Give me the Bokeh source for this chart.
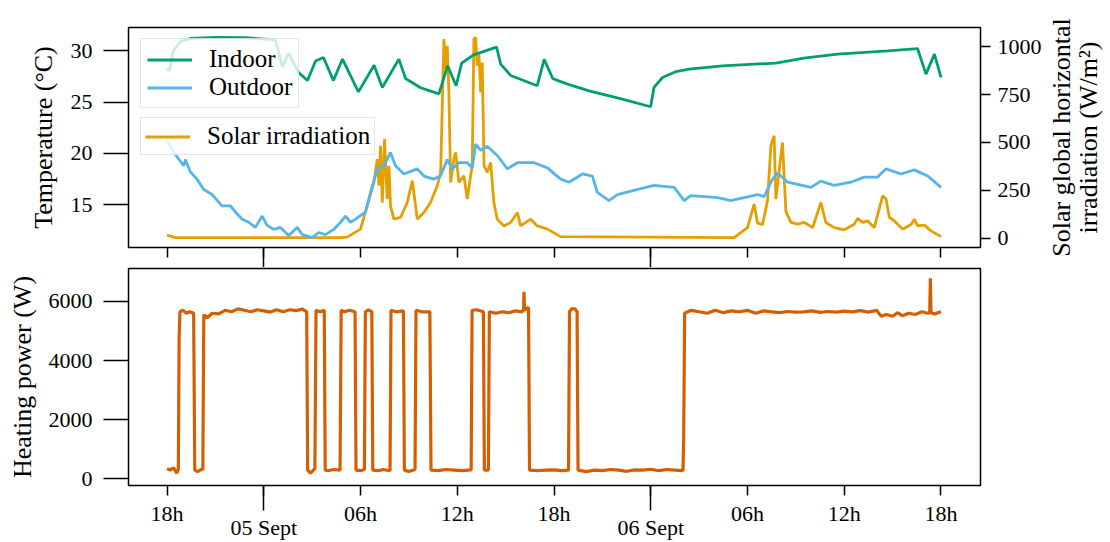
import math
from bokeh.plotting import figure
from bokeh.models import Range1d, LinearAxis, FixedTicker, Legend, LegendItem
from bokeh.layouts import column, row
from bokeh.embed import file_html
from bokeh.resources import INLINE

FONT = "Liberation Serif"

# ---------------- data (time = hours since 04 Sept 18:00) ----------------
tick_hours = [0, 6, 12, 18, 24, 30, 36, 42, 48]
hour_labels = ["18h", "", "06h", "12h", "18h", "", "06h", "12h", "18h"]
day_hours = [6, 30]
day_labels = ["05 Sept", "06 Sept"]

temp_ticks = [15, 20, 25, 30]
solar_ticks = [0, 250, 500, 750, 1000]
power_ticks = [0, 2000, 4000, 6000]

indoor = [(0.00, 28.3), (0.15, 28.05), (0.39, 30.0), (0.83, 30.9), (1.45, 31.2), (3.0, 31.3),
          (4.86, 31.27), (6.72, 31.07), (7.16, 28.4), (7.53, 29.8), (8.15, 27.9), (8.71, 27.1),
          (9.21, 29.0), (9.70, 29.35), (10.32, 27.1), (10.88, 29.2), (11.87, 26.0), (12.84, 28.6),
          (13.35, 26.43), (14.38, 29.19), (14.79, 27.3), (15.72, 26.4), (16.86, 25.8), (17.40, 28.54),
          (17.93, 26.6), (18.27, 28.8), (19.01, 29.6), (20.44, 30.36), (20.69, 28.7), (21.31, 27.6),
          (22.96, 26.6), (23.39, 29.17), (23.92, 27.3), (24.41, 27.0), (25.14, 26.6), (26.17, 26.1),
          (28.24, 25.3), (29.99, 24.55), (30.20, 26.43), (30.73, 27.4), (31.55, 27.96), (32.38, 28.22),
          (34.45, 28.54), (37.76, 28.8), (39.50, 29.29), (41.59, 29.68), (44.69, 30.0), (46.55, 30.22),
          (46.76, 29.19), (47.07, 27.73), (47.59, 29.68), (47.80, 28.54), (48.0, 27.4)]

outdoor = [(0.00, 21.2), (0.52, 19.9), (1.03, 18.8), (1.14, 19.4), (1.45, 18.2), (1.86, 17.5),
           (2.27, 16.5), (2.79, 16.0), (3.41, 14.9), (3.93, 14.9), (4.24, 14.3), (4.66, 13.6),
           (5.07, 13.3), (5.48, 12.8), (5.90, 13.9), (6.21, 13.0), (6.62, 12.6), (7.03, 12.8),
           (7.55, 12.0), (8.07, 12.8), (8.38, 12.1), (9.00, 11.8), (9.41, 12.3), (9.83, 12.1),
           (10.34, 12.6), (10.76, 13.3), (11.07, 13.9), (11.38, 13.3), (11.69, 13.6), (12.31, 14.3),
           (12.62, 16.2), (13.04, 18.5), (13.45, 18.8), (13.86, 20.1), (14.17, 18.8), (14.69, 18.0),
           (15.52, 18.5), (15.93, 17.8), (16.55, 17.5), (16.96, 17.8), (17.38, 19.4), (17.69, 18.5),
           (18.10, 19.1), (18.62, 19.1), (18.93, 18.6), (19.14, 20.9), (19.45, 20.3), (19.86, 20.7),
           (20.48, 19.8), (21.11, 18.5), (21.73, 19.1), (22.76, 19.1), (23.59, 18.6), (24.41, 17.5),
           (24.93, 17.2), (25.76, 18.0), (26.38, 17.8), (26.69, 16.2), (27.41, 15.4), (27.93, 16.0),
           (28.96, 16.4), (30.20, 16.9), (31.45, 16.7), (32.07, 15.4), (32.48, 15.9), (34.14, 15.7),
           (34.97, 15.4), (35.79, 15.7), (36.62, 16.0), (37.03, 15.8), (37.55, 17.5), (37.86, 18.1),
           (38.49, 17.2), (39.93, 16.7), (40.55, 17.3), (41.38, 16.9), (42.41, 17.2), (43.24, 17.7),
           (44.07, 17.7), (44.59, 18.5), (45.52, 18.0), (46.34, 18.4), (47.18, 17.8), (48.0, 16.7)]

solar = [(0.00, 16), (0.52, 3), (10.76, 3), (11.17, 5), (12.00, 47), (12.41, 169), (12.83, 291),
         (13.04, 413), (13.14, 274), (13.24, 483), (13.35, 186), (13.49, 518), (13.65, 204),
         (13.76, 378), (13.86, 169), (14.07, 99), (14.48, 108), (14.90, 186), (15.21, 300),
         (15.52, 99), (15.93, 134), (16.34, 186), (16.76, 274), (16.97, 343), (17.17, 1041),
         (17.28, 884), (17.38, 1006), (17.48, 761), (17.59, 291), (17.79, 413), (17.90, 448),
         (18.10, 291), (18.41, 326), (18.62, 204), (18.83, 326), (18.93, 378), (19.03, 1041),
         (19.14, 1049), (19.24, 901), (19.34, 971), (19.45, 761), (19.55, 918), (19.66, 378),
         (19.86, 343), (20.07, 395), (20.27, 186), (20.48, 99), (20.89, 64), (21.31, 82),
         (21.73, 134), (21.93, 64), (22.55, 99), (22.97, 64), (23.59, 47), (24.41, 8),
         (35.17, 3), (36.00, 55), (36.41, 178), (36.62, 80), (36.93, 70), (37.24, 195),
         (37.45, 483), (37.65, 535), (37.76, 204), (37.96, 350), (38.17, 500), (38.38, 140),
         (38.69, 82), (39.11, 73), (39.52, 82), (40.04, 55), (40.55, 186), (40.86, 82),
         (41.38, 55), (42.00, 43), (42.62, 73), (42.83, 103), (43.14, 82), (43.45, 90),
         (43.86, 55), (44.38, 221), (44.59, 204), (44.80, 108), (45.11, 90), (45.63, 47),
         (46.17, 73), (46.35, 99), (46.55, 64), (46.97, 68), (47.38, 38), (48.00, 8)]

power = [(0.00, 350), (0.20, 300), (0.40, 380), (0.60, 200), (0.70, 330), (0.75, 4800), (0.80, 5650),
         (1.00, 5700), (1.20, 5600), (1.40, 5650), (1.65, 5600), (1.72, 300), (1.90, 250), (2.15, 330),
         (2.22, 300), (2.28, 5550), (2.50, 5450), (2.80, 5600), (3.20, 5580), (3.60, 5700), (4.00, 5650),
         (4.40, 5750), (4.80, 5700), (5.20, 5650), (5.60, 5720), (6.00, 5680), (6.40, 5640), (6.80, 5720),
         (7.20, 5650), (7.60, 5720), (8.00, 5690), (8.40, 5740), (8.66, 5650), (8.72, 300), (8.90, 200),
         (9.17, 350), (9.24, 5700), (9.50, 5650), (9.75, 5700), (9.81, 300), (10.00, 280), (10.30, 320),
         (10.73, 300), (10.80, 5700), (11.00, 5650), (11.30, 5700), (11.66, 5650), (11.72, 300),
         (12.00, 280), (12.24, 320), (12.30, 5650), (12.50, 5720), (12.70, 5650), (12.76, 300),
         (13.10, 280), (13.40, 320), (13.83, 280), (13.89, 5700), (14.20, 5650), (14.66, 5680),
         (14.72, 300), (15.00, 250), (15.38, 320), (15.44, 5700), (15.80, 5650), (16.30, 5650),
         (16.37, 300), (16.80, 280), (17.30, 320), (17.80, 300), (18.30, 280), (18.86, 310),
         (18.92, 5700), (19.20, 5720), (19.62, 5650), (19.68, 300), (19.93, 300), (19.99, 5650),
         (20.40, 5600), (20.80, 5650), (21.20, 5620), (21.60, 5680), (22.00, 5650), (22.11, 5700),
         (22.14, 6330), (22.17, 5700), (22.42, 5800), (22.48, 300), (23.00, 280), (23.50, 300),
         (24.00, 310), (24.50, 280), (24.90, 300), (24.96, 5650), (25.10, 5750), (25.30, 5750),
         (25.43, 5650), (25.49, 300), (26.00, 250), (26.50, 300), (27.00, 280), (27.50, 320),
         (28.00, 300), (28.50, 260), (29.00, 310), (29.50, 300), (30.00, 330), (30.50, 280),
         (31.00, 320), (31.50, 300), (32.00, 280), (32.04, 1300), (32.10, 5600), (32.50, 5700),
         (33.00, 5650), (33.50, 5600), (34.00, 5700), (34.50, 5620), (35.00, 5680), (35.50, 5650),
         (36.00, 5700), (36.50, 5600), (37.00, 5680), (37.50, 5650), (38.00, 5620), (38.50, 5660),
         (39.00, 5640), (39.50, 5650), (40.00, 5680), (40.50, 5630), (41.00, 5660), (41.50, 5640),
         (42.00, 5670), (42.50, 5650), (43.00, 5690), (43.50, 5640), (44.00, 5700), (44.30, 5500),
         (44.60, 5560), (45.00, 5500), (45.30, 5620), (45.60, 5520), (46.00, 5600), (46.40, 5560),
         (46.80, 5650), (47.20, 5600), (47.30, 5620), (47.34, 6780), (47.38, 5620), (47.60, 5580),
         (48.00, 5650)]

indoor_h, indoor_T = zip(*indoor)
outdoor_h, outdoor_T = zip(*outdoor)
solar_h, solar_W = zip(*solar)
power_h, power_W = zip(*power)

# ---------------- styling ----------------
GREEN, BLUE, ORANGE, VERM = "#009E73", "#56B4E9", "#E69F00", "#D55E00"
W = 1110
LB = 128
RB_TOP = 64           # right border of the top panel (holds the solar tick labels)
W_TOP = 980 + RB_TOP  # frame right edge at x = 980
W_SIDE = W - W_TOP    # narrow strip carrying the right-hand axis title
TICK_FS = "22px"
LABEL_FS = "26px"
LEGEND_FS = "25px"
X0, X1 = -2.39, 50.45
T0, T1 = 10.84, 32.27
x_range = Range1d(X0, X1)


def style_common(p):
    p.outline_line_color = "black"
    p.outline_line_width = 1.5
    p.xgrid.visible = False
    p.ygrid.visible = False
    p.background_fill_color = "white"
    p.border_fill_color = "white"


def style_axis(ax, tick_out, standoff):
    ax.axis_line_color = None
    ax.major_tick_out = tick_out
    ax.major_tick_in = 0
    ax.minor_tick_in = 0
    ax.major_tick_line_width = 1.5
    ax.minor_tick_line_width = 1.5
    ax.major_tick_line_color = "black"
    ax.minor_tick_line_color = "black"
    ax.major_label_text_font = FONT
    ax.major_label_text_font_size = TICK_FS
    ax.major_label_text_color = "black"
    ax.major_label_standoff = standoff
    ax.axis_label_text_font = FONT
    ax.axis_label_text_font_size = LABEL_FS
    ax.axis_label_text_font_style = "normal"
    ax.axis_label_text_color = "black"


# ---------------- top panel ----------------
p1 = figure(width=W_TOP, height=267, x_range=x_range, y_range=Range1d(T0, T1),
            output_backend="svg", toolbar_location=None,
            min_border_left=LB, min_border_right=RB_TOP, min_border_top=27, min_border_bottom=20)
p1.extra_y_ranges = {"solar": Range1d(-49, 1101)}
style_common(p1)

r_sol = p1.line(solar_h, solar_W, color=ORANGE, line_width=2.8, y_range_name="solar")
r_in = p1.line(indoor_h, indoor_T, color=GREEN, line_width=2.8)
r_out = p1.line(outdoor_h, outdoor_T, color=BLUE, line_width=2.8)

ax = p1.xaxis[0]
ax.ticker = FixedTicker(ticks=tick_hours, minor_ticks=day_hours)
style_axis(ax, 10, 0)
ax.minor_tick_out = 20
ax.major_label_overrides = {h: "" for h in tick_hours}
ax.major_label_text_font_size = "0px"

ay = p1.yaxis[0]
ay.ticker = FixedTicker(ticks=temp_ticks, minor_ticks=[])
style_axis(ay, 25, 11)
ay.minor_tick_out = 0
ay.axis_label = "Temperature (°C)"
ay.axis_label_standoff = 10

ar = LinearAxis(y_range_name="solar")
ar.ticker = FixedTicker(ticks=solar_ticks, minor_ticks=[])
style_axis(ar, 10, 7)
ar.minor_tick_out = 0
p1.add_layout(ar, "right")

leg1 = Legend(items=[LegendItem(label="Indoor", renderers=[r_in]),
                     LegendItem(label="Outdoor", renderers=[r_out])], location=(12, 139))
leg2 = Legend(items=[LegendItem(label="Solar irradiation", renderers=[r_sol])], location=(12, 92))
for lg, pad, lh in ((leg1, 6, 27), (leg2, 4, 25)):
    lg.label_text_font = FONT
    lg.label_text_font_size = LEGEND_FS
    lg.label_text_color = "black"
    lg.glyph_width = 45
    lg.glyph_height = lh
    lg.label_height = lh
    lg.label_standoff = 17
    lg.padding = pad
    lg.spacing = 0
    lg.margin = 0
    lg.background_fill_color = "white"
    lg.background_fill_alpha = 0.8
    lg.border_line_color = "#cccccc"
    lg.border_line_width = 1.5
    p1.add_layout(lg)

# narrow strip: carries the solar axis title, reading bottom-to-top
ps = figure(width=W_SIDE, height=267, x_range=Range1d(0, 1), y_range=Range1d(-49, 1101),
            output_backend="svg", toolbar_location=None, x_axis_location=None,
            min_border_left=W_SIDE - 6, min_border_right=0, min_border_top=27, min_border_bottom=20)
ps.outline_line_color = None
ps.xgrid.visible = False
ps.ygrid.visible = False
ps.background_fill_color = "white"
ps.border_fill_color = "white"
sa = ps.yaxis[0]
sa.ticker = FixedTicker(ticks=[], minor_ticks=[])
style_axis(sa, 0, 0)
sa.minor_tick_out = 0
sa.major_label_text_font_size = "0px"
sa.axis_label = "Solar global horizontal\nirradiation (W/m²)"
sa.axis_label_standoff = 2
sa.axis_label_text_line_height = 0.9

# ---------------- bottom panel ----------------
p2 = figure(width=W, height=275, x_range=x_range, y_range=Range1d(-220, 7113),
            output_backend="svg", toolbar_location=None,
            min_border_left=LB, min_border_right=W - 980, min_border_top=1, min_border_bottom=54)
style_common(p2)
p2.line(power_h, power_W, color=VERM, line_width=3.2)

# hour labels, short ticks every 6 h and long ticks at midnight
bx = p2.xaxis[0]
bx.ticker = FixedTicker(ticks=tick_hours, minor_ticks=day_hours)
style_axis(bx, 10, -10)
bx.minor_tick_out = 25
bx.major_label_overrides = {h: lab for h, lab in zip(tick_hours, hour_labels)}

# day labels under the midnight ticks
bd = LinearAxis()
bd.ticker = FixedTicker(ticks=day_hours, minor_ticks=[])
style_axis(bd, 0, -14)
bd.minor_tick_out = 0
bd.major_label_overrides = {h: lab for h, lab in zip(day_hours, day_labels)}
p2.add_layout(bd, "below")

by = p2.yaxis[0]
by.ticker = FixedTicker(ticks=power_ticks, minor_ticks=[])
style_axis(by, 25, 11)
by.minor_tick_out = 0
by.axis_label = "Heating power (W)"
by.axis_label_standoff = 9

layout = column(row(p1, ps, spacing=0), p2, spacing=0)
open("out.html", "w").write(file_html(layout, INLINE))
